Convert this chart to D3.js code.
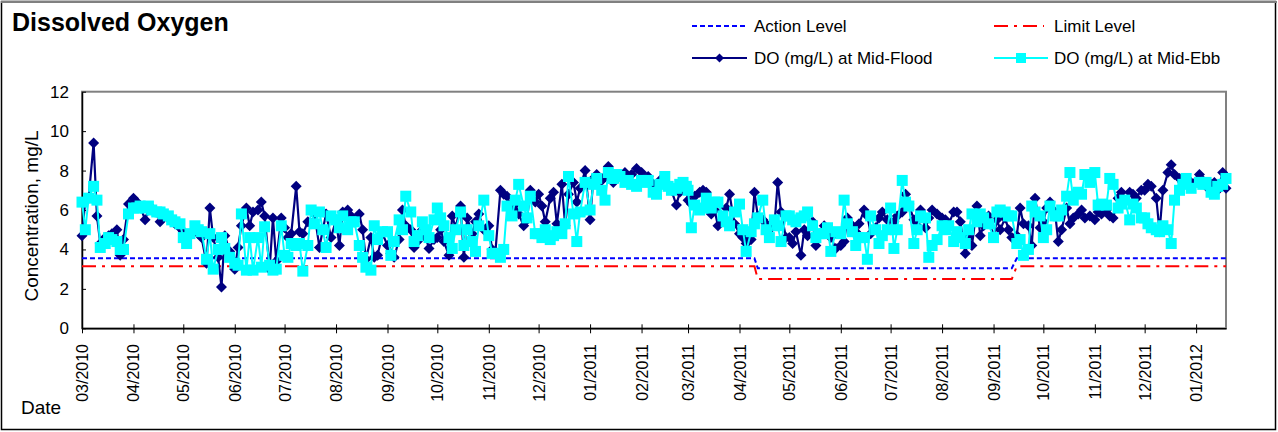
<!DOCTYPE html>
<html><head><meta charset="utf-8">
<script src="https://cdn.jsdelivr.net/npm/d3@7"></script>
<style>
body{margin:0;background:#fff}
text{font-family:"Liberation Sans",Arial,sans-serif;fill:#000}
</style>
</head><body><svg id="c" width="1278" height="432"></svg>
<script>
// ---------- data ----------
const sampleDates = [
"2010-03-01","2010-03-03","2010-03-05","2010-03-08","2010-03-10","2010-03-12","2010-03-15","2010-03-17","2010-03-19","2010-03-22","2010-03-24","2010-03-26","2010-03-29",
"2010-04-01","2010-04-03","2010-04-05","2010-04-08","2010-04-10","2010-04-12","2010-04-15","2010-04-17","2010-04-19","2010-04-22","2010-04-24","2010-04-26","2010-04-29",
"2010-05-01","2010-05-03","2010-05-05","2010-05-08","2010-05-10","2010-05-12","2010-05-15","2010-05-17","2010-05-19","2010-05-22","2010-05-24","2010-05-26","2010-05-29",
"2010-06-01","2010-06-03","2010-06-05","2010-06-08","2010-06-10","2010-06-12","2010-06-15","2010-06-17","2010-06-19","2010-06-22","2010-06-24","2010-06-26","2010-06-29",
"2010-07-01","2010-07-03","2010-07-05","2010-07-08","2010-07-10","2010-07-12","2010-07-15","2010-07-17","2010-07-19","2010-07-22","2010-07-24","2010-07-26","2010-07-29",
"2010-08-01","2010-08-03","2010-08-05","2010-08-08","2010-08-10","2010-08-12","2010-08-15","2010-08-17","2010-08-19","2010-08-22","2010-08-24","2010-08-26","2010-08-29",
"2010-09-01","2010-09-03","2010-09-05","2010-09-08","2010-09-10","2010-09-12","2010-09-15","2010-09-17","2010-09-19","2010-09-22","2010-09-24","2010-09-26","2010-09-29",
"2010-10-01","2010-10-03","2010-10-05","2010-10-08","2010-10-10","2010-10-12","2010-10-15","2010-10-17","2010-10-19","2010-10-22","2010-10-24","2010-10-26","2010-10-29",
"2010-11-01","2010-11-03","2010-11-05","2010-11-08","2010-11-10","2010-11-12","2010-11-15","2010-11-17","2010-11-19","2010-11-22","2010-11-24","2010-11-26","2010-11-29",
"2010-12-01","2010-12-03","2010-12-05","2010-12-08","2010-12-10","2010-12-12","2010-12-15","2010-12-17","2010-12-19","2010-12-22","2010-12-24","2010-12-26","2010-12-29",
"2011-01-01","2011-01-03","2011-01-05","2011-01-08","2011-01-10","2011-01-12","2011-01-15","2011-01-17","2011-01-19","2011-01-22","2011-01-24","2011-01-26","2011-01-29",
"2011-02-01","2011-02-03","2011-02-05","2011-02-08","2011-02-10","2011-02-12","2011-02-15","2011-02-17","2011-02-19","2011-02-22","2011-02-24","2011-02-26","2011-02-28",
"2011-03-01","2011-03-03","2011-03-05","2011-03-08","2011-03-10","2011-03-12","2011-03-15","2011-03-17","2011-03-19","2011-03-22","2011-03-24","2011-03-26","2011-03-29",
"2011-04-01","2011-04-03","2011-04-05","2011-04-08","2011-04-10","2011-04-12","2011-04-15","2011-04-17","2011-04-19","2011-04-22","2011-04-24","2011-04-26","2011-04-29",
"2011-05-01","2011-05-03","2011-05-05","2011-05-08","2011-05-10","2011-05-12","2011-05-15","2011-05-17","2011-05-19","2011-05-22","2011-05-24","2011-05-26","2011-05-29",
"2011-06-01","2011-06-03","2011-06-05","2011-06-08","2011-06-10","2011-06-12","2011-06-15","2011-06-17","2011-06-19","2011-06-22","2011-06-24","2011-06-26","2011-06-29",
"2011-07-01","2011-07-03","2011-07-05","2011-07-08","2011-07-10","2011-07-12","2011-07-15","2011-07-17","2011-07-19","2011-07-22","2011-07-24","2011-07-26","2011-07-29",
"2011-08-01","2011-08-03","2011-08-05","2011-08-08","2011-08-10","2011-08-12","2011-08-15","2011-08-17","2011-08-19","2011-08-22","2011-08-24","2011-08-26","2011-08-29",
"2011-09-01","2011-09-03","2011-09-05","2011-09-08","2011-09-10","2011-09-12","2011-09-15","2011-09-17","2011-09-19","2011-09-22","2011-09-24","2011-09-26","2011-09-29",
"2011-10-01","2011-10-03","2011-10-05","2011-10-08","2011-10-10","2011-10-12","2011-10-15","2011-10-17","2011-10-19","2011-10-22","2011-10-24","2011-10-26","2011-10-29",
"2011-11-01","2011-11-03","2011-11-05","2011-11-08","2011-11-10","2011-11-12","2011-11-15","2011-11-17","2011-11-19","2011-11-22","2011-11-24","2011-11-26","2011-11-29",
"2011-12-01","2011-12-03","2011-12-05","2011-12-08","2011-12-10","2011-12-12","2011-12-15","2011-12-17","2011-12-19","2011-12-22","2011-12-24","2011-12-26","2011-12-29",
"2012-01-03","2012-01-05","2012-01-07","2012-01-10","2012-01-12","2012-01-14","2012-01-17","2012-01-19"
];

const floodDO = [
4.7,6.5,6.6,9.4,5.7,4.3,4.6,4.7,4.8,5.0,3.7,4.5,6.3,
6.6,6.4,6.2,5.5,6.0,6.1,5.9,5.4,5.8,5.6,5.5,5.3,5.1,
4.9,4.5,4.7,5.0,4.8,4.6,3.3,6.1,4.6,3.6,2.1,4.7,3.9,
3.0,4.1,5.2,6.1,5.2,5.9,6.0,6.4,5.7,3.0,5.6,3.4,5.6,
5.1,4.6,4.8,7.2,4.9,4.8,5.4,5.3,5.8,4.1,5.0,5.8,4.6,
5.5,4.2,5.9,6.0,5.7,5.4,5.8,5.0,3.5,4.6,3.6,3.7,4.8,
4.2,3.8,3.6,4.5,6.0,5.2,5.0,4.1,4.4,5.0,4.6,4.05,4.5,
4.6,5.0,4.4,3.7,5.7,5.1,6.2,3.6,5.6,4.8,5.4,5.8,5.0,
5.2,4.0,3.9,7.0,6.8,6.7,6.0,6.3,5.8,5.2,5.5,7.0,6.4,
6.8,6.2,5.4,6.6,6.9,5.3,7.3,5.2,6.8,7.4,6.4,7.1,8.0,
5.5,7.6,7.8,7.5,7.7,8.2,7.4,7.6,7.8,7.9,7.7,7.8,8.1,
7.9,7.6,7.7,7.3,7.1,7.5,7.4,7.2,7.0,6.25,6.9,7.1,7.2,
6.5,6.3,6.7,6.9,7.0,6.9,5.8,6.0,5.2,5.5,6.1,6.8,5.3,
4.8,4.6,4.3,4.5,6.9,5.7,5.5,5.3,5.0,5.2,7.4,5.9,4.6,
4.6,4.3,4.9,3.7,5.0,4.7,5.4,4.2,4.8,5.2,4.9,4.6,4.05,
4.2,4.4,5.6,5.2,4.9,5.3,6.0,5.7,4.8,5.1,5.6,5.9,5.5,
5.0,5.4,5.7,5.9,6.8,6.3,5.5,5.2,6.0,5.1,5.6,6.0,5.8,
5.6,5.5,5.3,5.9,5.9,5.4,3.8,4.6,4.2,6.2,4.7,5.2,5.7,
4.6,5.5,5.0,5.6,5.0,4.6,4.7,6.1,5.3,5.2,4.2,6.6,5.1,
5.4,6.1,6.4,5.9,4.4,5.0,6.1,5.3,5.6,5.8,6.0,5.6,5.7,
5.5,5.9,5.8,6.0,5.7,5.6,6.6,6.9,6.5,6.9,6.8,6.6,7.0,
7.0,7.3,7.2,6.6,4.9,7.0,7.9,8.3,7.8,7.6,7.4,7.4,7.4,
7.8,7.5,7.2,7.3,7.4,7.0,7.9,7.1
];

const ebbDO = [
6.4,5.0,6.6,7.2,6.5,4.1,4.3,4.6,4.5,4.4,4.0,4.0,5.8,
6.1,6.1,6.2,6.1,6.2,6.0,5.9,5.9,5.8,5.7,5.5,5.4,5.3,
4.6,4.3,4.8,5.2,5.0,4.9,3.5,4.8,3.0,4.0,4.6,4.05,3.6,
3.3,3.2,5.8,2.95,4.6,2.95,4.6,3.1,5.15,3.2,2.95,3.0,5.2,
3.7,3.6,4.3,4.2,4.3,2.9,4.2,6.0,5.3,5.9,5.0,4.1,5.7,
5.5,5.1,5.7,5.0,5.4,5.4,4.2,3.6,3.1,2.95,5.2,4.5,4.9,
4.9,3.7,4.4,5.5,5.0,6.7,5.9,4.4,4.7,5.4,5.0,4.6,5.5,
6.1,5.6,5.2,4.6,4.05,5.0,5.9,4.2,5.0,4.4,3.9,5.2,6.5,
4.7,3.8,3.8,3.6,4.0,6.2,5.7,6.5,7.3,6.2,5.6,6.7,4.8,
4.8,4.6,5.0,4.5,4.7,4.9,4.8,5.3,7.7,5.8,4.4,5.9,7.4,
6.0,7.3,7.6,7.0,6.5,7.9,7.6,7.8,7.7,7.4,7.5,7.3,7.2,
7.5,7.4,7.5,6.9,6.8,7.3,7.7,7.2,7.0,7.1,7.3,7.4,7.2,
7.0,5.1,6.25,6.0,6.1,6.6,6.1,6.4,6.4,5.7,5.4,5.2,5.9,
6.3,5.0,3.9,4.9,5.3,5.6,6.5,5.0,4.6,5.5,5.2,4.4,5.7,
5.7,5.5,5.4,5.6,5.7,5.9,5.2,4.6,4.8,4.8,5.1,3.9,4.9,
4.8,6.5,5.3,4.9,4.2,4.6,4.6,3.5,5.7,5.0,4.3,4.7,5.0,
6.1,4.05,5.0,7.5,6.4,6.2,4.3,5.0,5.7,5.6,3.6,4.2,4.5,
5.2,5.0,5.2,4.4,4.9,4.6,4.3,5.0,5.8,5.4,5.8,5.6,5.3,
4.6,5.9,6.0,5.9,5.7,5.7,4.3,4.5,3.7,4.0,6.2,5.9,5.7,
4.6,5.0,6.2,5.7,5.7,6.0,6.7,7.9,6.5,6.9,6.8,7.8,7.4,
7.9,6.25,6.3,6.25,7.6,7.3,6.1,6.3,6.5,5.5,6.3,6.1,5.6,
5.6,5.3,5.1,5.0,4.9,5.2,5.0,4.3,6.5,7.0,7.3,7.6,7.1,
7.4,7.3,7.4,6.9,6.8,7.2,7.3,7.6
];

const levelDates  = ["2010-03-01","2011-04-10","2011-04-12","2011-09-12","2011-09-15","2012-01-19"];
const actionLevel = [3.55, 3.55, 3.05, 3.05, 3.55, 3.55];
const limitLevel  = [3.15, 3.15, 2.5, 2.5, 3.15, 3.15];

const yTicks = [0, 2, 4, 6, 8, 10, 12];
const monthTicks = ["2010-03-01","2010-04-01","2010-05-01","2010-06-01","2010-07-01","2010-08-01","2010-09-01",
  "2010-10-01","2010-11-01","2010-12-01","2011-01-01","2011-02-01","2011-03-01","2011-04-01","2011-05-01",
  "2011-06-01","2011-07-01","2011-08-01","2011-09-01","2011-10-01","2011-11-01","2011-12-01","2012-01-01"];
const axisStart = "2010-03-01", axisEnd = "2012-01-19";

const legendLabels = ["Action Level", "Limit Level", "DO (mg/L) at Mid-Flood", "DO (mg/L) at Mid-Ebb"];

// ---------- drawing ----------
if (floodDO.length !== sampleDates.length || ebbDO.length !== sampleDates.length)
  console.error("length mismatch", sampleDates.length, floodDO.length, ebbDO.length);

const parse = d3.timeParse("%Y-%m-%d");
const fmt = d3.timeFormat("%m/%Y");
const svg = d3.select("#c");

const L = 82, R = 1226, T = 91.7, B = 328.3;
const x = d3.scaleTime().domain([parse(axisStart), parse(axisEnd)]).range([L, R]);
const y = d3.scaleLinear().domain([0, 12]).range([B, T]);

// outer frame
svg.append("rect").attr("x", 1.5).attr("y", 1.5).attr("width", 1274).attr("height", 428)
  .attr("fill", "#fff").attr("stroke", "#000").attr("stroke-width", 1.5);
svg.append("line").attr("x1", 1).attr("x2", 1277).attr("y1", 2).attr("y2", 2)
  .attr("stroke", "#808080").attr("stroke-width", 2);

// plot area border
svg.append("rect").attr("x", L).attr("y", T).attr("width", R - L).attr("height", B - T)
  .attr("fill", "none").attr("stroke", "#808080").attr("stroke-width", 2);

// y axis
const yAxis = svg.append("g").attr("transform", `translate(${L},0)`)
  .call(d3.axisLeft(y).tickValues(yTicks).tickSizeInner(-4).tickSizeOuter(0).tickPadding(13));
yAxis.select(".domain").attr("stroke", "#000").attr("stroke-width", 1.5);
yAxis.selectAll(".tick line").attr("stroke", "#000");
yAxis.selectAll(".tick text").style("font-size", "17px").attr("font-family", null);

// x axis
const xTickDates = monthTicks.map(parse);
const xAxis = svg.append("g").attr("transform", `translate(0,${B})`)
  .call(d3.axisBottom(x).tickValues(xTickDates).tickSizeInner(4).tickSizeOuter(0).tickFormat(""));
xAxis.select(".domain").attr("stroke", "#000").attr("stroke-width", 1.5);
xAxis.selectAll(".tick line").attr("stroke", "#000").attr("y1", -4).attr("y2", 5);
svg.append("g").selectAll("text").data(xTickDates).join("text")
  .attr("transform", d => `translate(${x(d) + 6},344) rotate(-90)`)
  .attr("text-anchor", "end").style("font-size", "16px").text(d => fmt(d));

// axis titles
svg.append("text").attr("transform", `translate(38,${(T + B) / 2 + 6}) rotate(-90)`)
  .attr("text-anchor", "middle").style("font-size", "19px").text("Concentration, mg/L");
svg.append("text").attr("x", 21).attr("y", 414).style("font-size", "19px").text("Date");

// title
svg.append("text").attr("x", 12).attr("y", 31).style("font-size", "25px").style("font-weight", "bold")
  .text("Dissolved Oxygen");

// level lines
const levelPts = levelDates.map(parse);
const line = d3.line().x(d => x(d[0])).y(d => y(d[1]));
svg.append("path").datum(levelPts.map((d, i) => [d, actionLevel[i]])).attr("d", line)
  .attr("fill", "none").attr("stroke", "#0000FF").attr("stroke-width", 2).attr("stroke-dasharray", "5,3");
svg.append("path").datum(levelPts.map((d, i) => [d, limitLevel[i]])).attr("d", line)
  .attr("fill", "none").attr("stroke", "#FF0000").attr("stroke-width", 2).attr("stroke-dasharray", "14,6,3,6");

const dates = sampleDates.map(parse);
const diamond = r => `M0,${-r}L${r},0L0,${r}L${-r},0Z`;

// flood series
const floodPts = dates.map((d, i) => [d, floodDO[i]]);
svg.append("path").datum(floodPts).attr("d", line).attr("fill", "none")
  .attr("stroke", "#000080").attr("stroke-width", 2.2).attr("stroke-linejoin", "round");
svg.append("g").selectAll("path").data(floodPts).join("path")
  .attr("transform", d => `translate(${x(d[0])},${y(d[1])})`).attr("d", diamond(5.5)).attr("fill", "#000080");

// ebb series
const ebbPts = dates.map((d, i) => [d, ebbDO[i]]);
svg.append("path").datum(ebbPts).attr("d", line).attr("fill", "none")
  .attr("stroke", "#00FFFF").attr("stroke-width", 2).attr("stroke-linejoin", "round");
const sq = 11;
svg.append("g").selectAll("rect").data(ebbPts).join("rect")
  .attr("x", d => x(d[0]) - sq / 2).attr("y", d => y(d[1]) - sq / 2)
  .attr("width", sq).attr("height", sq).attr("fill", "#00FFFF");

// legend
const lg = svg.append("g");
const lx1 = 692, lx2 = 994, lw = 55, r1 = 26, r2 = 58;
lg.append("line").attr("x1", lx1).attr("x2", lx1 + lw).attr("y1", r1).attr("y2", r1)
  .attr("stroke", "#0000FF").attr("stroke-width", 2).attr("stroke-dasharray", "5,3");
lg.append("line").attr("x1", lx2).attr("x2", lx2 + 50).attr("y1", r1).attr("y2", r1)
  .attr("stroke", "#FF0000").attr("stroke-width", 2).attr("stroke-dasharray", "14,6,3,6");
lg.append("line").attr("x1", lx1).attr("x2", lx1 + lw).attr("y1", r2).attr("y2", r2)
  .attr("stroke", "#000080").attr("stroke-width", 2);
lg.append("path").attr("transform", `translate(${lx1 + lw / 2},${r2})`).attr("d", diamond(4.5)).attr("fill", "#000080");
lg.append("line").attr("x1", lx2).attr("x2", lx2 + 54).attr("y1", r2).attr("y2", r2)
  .attr("stroke", "#00FFFF").attr("stroke-width", 2);
lg.append("rect").attr("x", lx2 + 27 - 5).attr("y", r2 - 5).attr("width", 10).attr("height", 10).attr("fill", "#00FFFF");
const ltx = [[754, r1], [1054, r1], [754, r2], [1054, r2]];
lg.selectAll("text").data(legendLabels).join("text")
  .attr("x", (d, i) => ltx[i][0]).attr("y", (d, i) => ltx[i][1] + 6)
  .style("font-size", "17px").text(d => d);
</script>
</body></html>
